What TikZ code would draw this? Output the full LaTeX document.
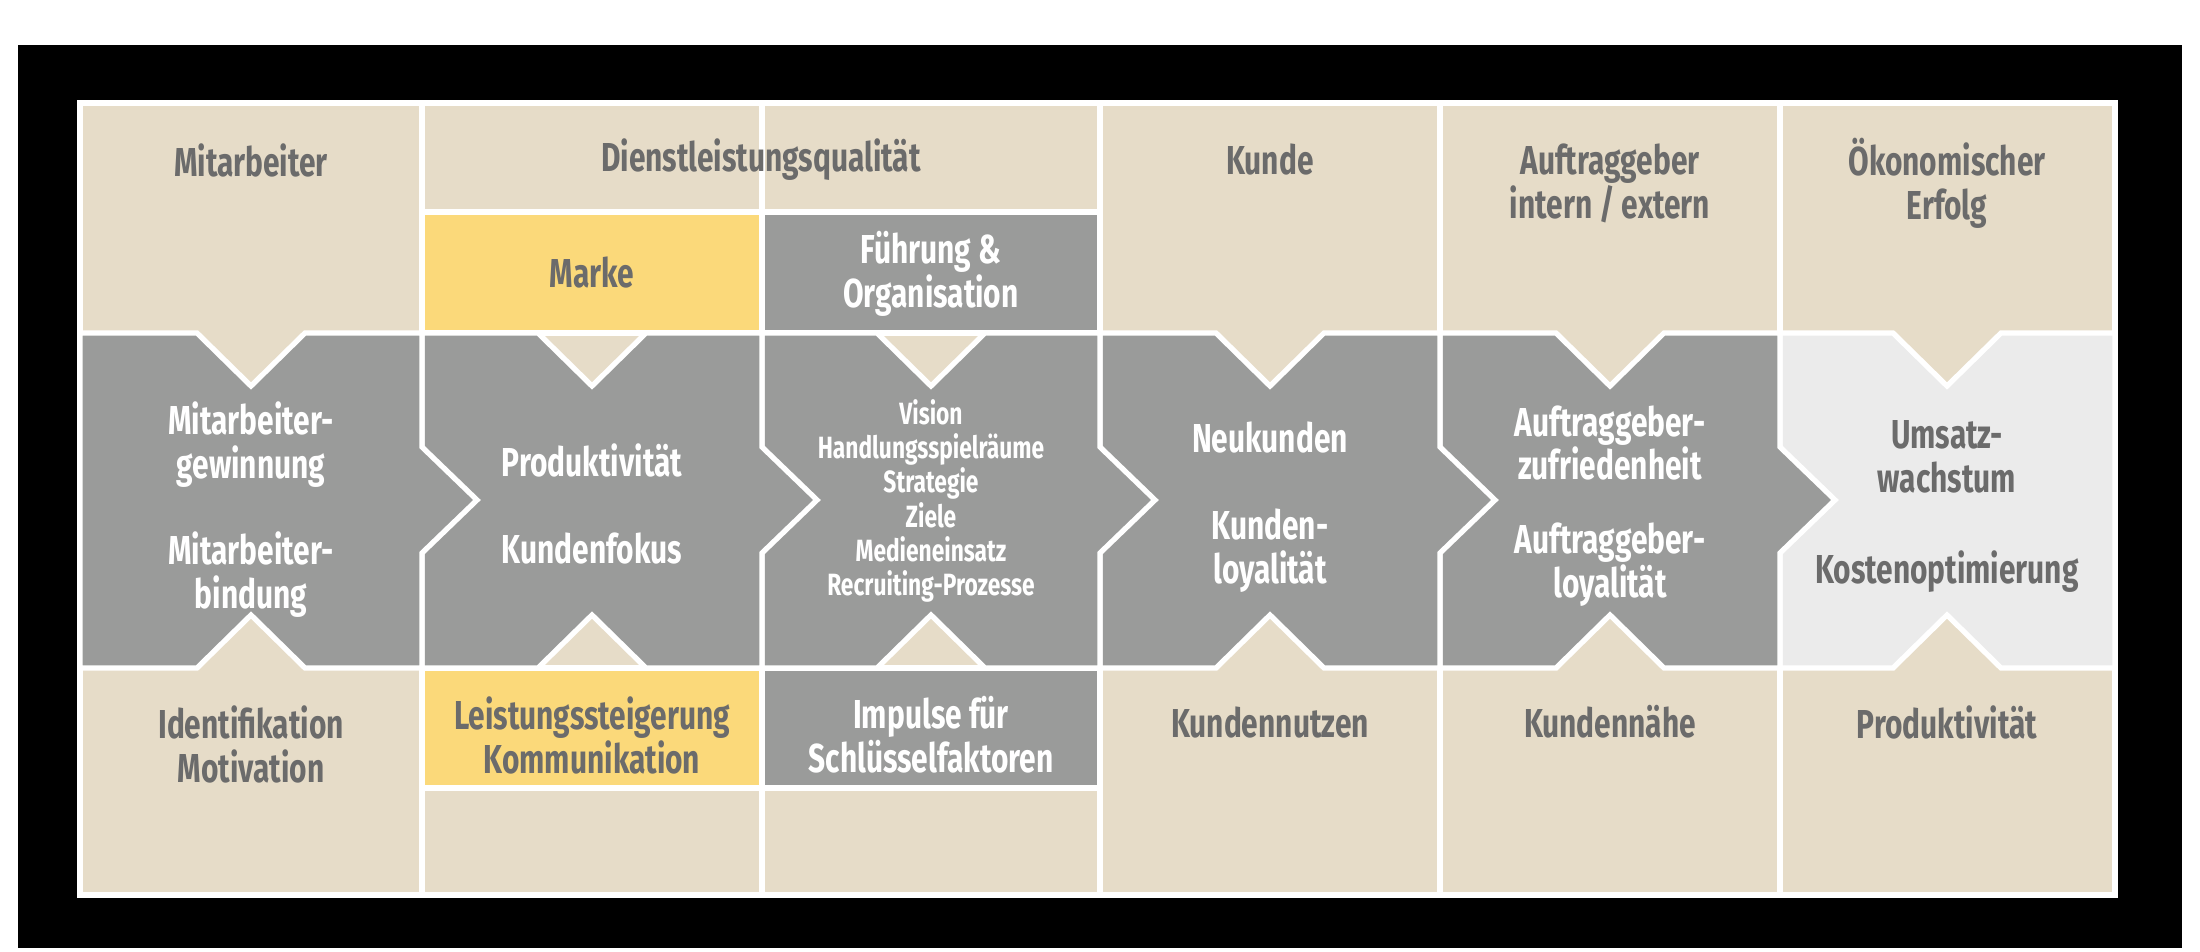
\documentclass[tikz,border=0pt]{standalone}
\usepackage{fontspec}
\setmainfont{Fira Sans}[FakeStretch=0.74]
\definecolor{beige}{HTML}{E6DCC8}
\definecolor{stone}{HTML}{9A9B9A}
\definecolor{sun}{HTML}{FBD97A}
\definecolor{pale}{HTML}{EBEBEB}
\definecolor{ink}{HTML}{6B6B6B}
\tikzset{
  dark/.style={font=\bfseries\fontsize{23}{25}\selectfont, text=ink, align=center},
  light/.style={font=\bfseries\fontsize{23}{25}\selectfont, text=white, align=center},
  small/.style={font=\bfseries\fontsize{17.5}{19.5}\selectfont, text=white, align=center},
  edge/.style={draw=white, line width=3pt, line join=miter}
}
\begin{document}
\begin{tikzpicture}[x=0.02cm, y=-0.02cm]
                \useasboundingbox (0,0) rectangle (2200,951);
                \fill[black] (18,45) rectangle (2182,948);
                % Boxes
                \fill[beige] (80,103) rectangle (2115,895);
                \draw[edge] (80,103) rectangle (2115,895);
                \foreach \x in {422,762,1100,1440,1780}
                    \draw[edge] (\x,103) -- (\x,895);
                \draw[edge] (422,212) -- (1100,212);
                \draw[edge] (422,788) -- (1100,788);
                \draw[edge, fill=sun]   (422,212) rectangle (762,333);
                \draw[edge, fill=stone] (762,212) rectangle (1100,333);
                \draw[edge, fill=sun]   (422,668) rectangle (762,788);
                \draw[edge, fill=stone] (762,668) rectangle (1100,788);
                % Pieces
                \draw[edge, fill=pale] (1780,333) -- (1893,333) -- (1947,386) -- (2001,333) -- (2115,333)
                    -- (2115,668) -- (2001,668) -- (1947,615) -- (1893,668) -- (1780,668) -- cycle;
                \foreach \a/\b in {1440/1780,1100/1440,762/1100,422/762,80/422}{
                    \pgfmathsetmacro\c{(\a+\b)/2}
                    \draw[edge, fill=stone] (\a,333) -- (\c-54,333) -- (\c,386) -- (\c+54,333) -- (\b,333)
                        -- (\b,447) -- (\b+55,500) -- (\b,553) -- (\b,668) -- (\c+54,668) -- (\c,615)
                        -- (\c-54,668) -- (\a,668) -- cycle;
                }
                % Top
                \node[dark] at (251,160)  (mit)   {Mitarbeiter};
                \node[dark] at (761,160)  (dlq)   {Dienstleistungsqualität};
                \node[dark] at (1270,160) (kun)   {Kunde};
                \node[dark] at (1610,183) (auf)   {Auftraggeber\\intern / extern};
                \node[dark] at (1947,183) (oek)   {Ökonomischer\\Erfolg};
                \node[dark] at (592,272)  (mar)   {Marke};
                \node[light] at (931,274) (fue)   {Führung \&\\Organisation};
                % Middle
                \node[dark, text=white] at (251,445) (gew)  {Mitarbeiter-\\gewinnung};
                \node[light] at (251,575) (bin)   {Mitarbeiter-\\bindung};
                \node[light] at (592,460) (pro)   {Produktivität};
                \node[light] at (592,548) (fok)   {Kundenfokus};
                \node[small] at (931,501) (vis)   {Vision\\Handlungsspielräume\\Strategie\\Ziele\\Medieneinsatz\\Recruiting-Prozesse};
                \node[light] at (1270,437) (neu)  {Neukunden};
                \node[light] at (1270,551) (loy)  {Kunden-\\loyalität};
                \node[light] at (1610,443) (zuf)  {Auftraggeber-\\zufriedenheit};
                \node[light] at (1610,565) (aly)  {Auftraggeber-\\loyalität};
                \node[dark] at (1947,457) (ums)   {Umsatz-\\wachstum};
                \node[dark] at (1947,572) (kos)   {Kostenoptimierung};
                % Bottom
                \node[dark] at (251,744)  (ide)   {Identifikation\\Motivation};
                \node[dark] at (592,735)  (lei)   {Leistungssteigerung\\Kommunikation};
                \node[light] at (931,735) (imp)   {Impulse für\\Schlüsselfaktoren};
                \node[dark] at (1270,722) (nut)   {Kundennutzen};
                \node[dark] at (1610,722) (nae)   {Kundennähe};
                \node[dark] at (1947,722) (prd)   {Produktivität};
\end{tikzpicture}
\end{document}
